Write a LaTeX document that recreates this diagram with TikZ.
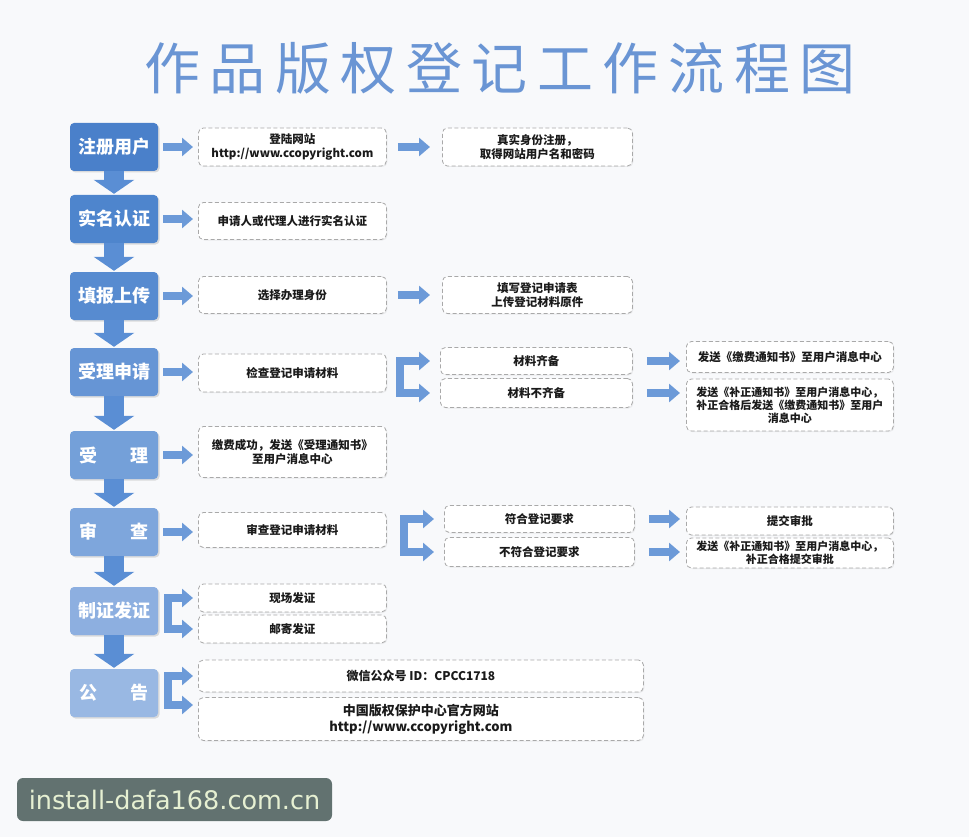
\documentclass[tikz,border=0pt]{standalone}
\usepackage{fontspec}
\setmainfont{Noto Sans CJK SC}
\newfontfamily\wmfont{DejaVu Sans}
\usetikzlibrary{positioning,arrows.meta,shadows}
\definecolor{sbg}{HTML}{F8F9FB}
\definecolor{sline}{HTML}{A9A9A9}
\definecolor{stext}{HTML}{1A1A1A}
\definecolor{sarrow}{HTML}{6C9AD8}
\definecolor{sdown}{HTML}{5A8ED4}
\definecolor{stitle}{HTML}{6A95D4}
\definecolor{swmbg}{HTML}{627270}
\definecolor{swmtext}{HTML}{E6F0D2}
\definecolor{s1}{HTML}{4A80CA}
\definecolor{s2}{HTML}{4E85CD}
\definecolor{s3}{HTML}{578BD0}
\definecolor{s4}{HTML}{6695D5}
\definecolor{s5}{HTML}{74A0D9}
\definecolor{s6}{HTML}{7EA6DC}
\definecolor{s7}{HTML}{8DAFE0}
\definecolor{s8}{HTML}{99B8E3}
\newcommand\twochar[2]{#1\hspace{34pt}#2}
\tikzset{
  stepbox/.style = {fill=#1, draw=none, rounded corners=4pt,
                    minimum width=88pt, minimum height=48pt, inner sep=0pt,
                    text=white, font=\fontsize{18}{20}\selectfont\bfseries,
                    drop shadow={opacity=0.25, shadow xshift=1.5pt, shadow yshift=-1.5pt}},
  dbox/.style    = {draw=sline, dash pattern=on 4pt off 2.5pt, line width=0.8pt,
                    fill=white, rounded corners=5pt, align=center, inner sep=2pt,
                    anchor=west, text=stext,
                    font=\fontsize{11.5}{13.5}\selectfont\bfseries,
                    drop shadow={opacity=0.12, shadow xshift=1pt, shadow yshift=-1pt}},
  fat/.style     = {-{Triangle[width=18pt,length=11pt]}, line width=8pt, draw=sarrow},
  fork/.style    = {{Triangle[width=18pt,length=11pt]}-{Triangle[width=18pt,length=11pt]},
                    line width=8pt, draw=sarrow, line join=miter,
                    shorten <=10pt, shorten >=10pt},
  down/.style    = {-{Triangle[width=40pt,length=14pt]}, line width=20pt, draw=sdown,
                    shorten >=1pt},
}

\begin{document}
\begin{tikzpicture}[x=1pt, y=-1pt]

\useasboundingbox (0,0) rectangle (969,837);
\fill[sbg] (0,0) rectangle (969,837);

% title
\node[font=\fontsize{56}{60}\selectfont\addfontfeatures{LetterSpace=17},
      text=stitle] (title) at (500,68) {作品版权登记工作流程图};

% the eight steps down the left side
\foreach \i/\y/\c/\t in {1/147/s1/注册用户, 2/219/s2/实名认证, 3/296/s3/填报上传,
                         4/372/s4/受理申请, 5/455/s5/{\twochar{受}{理}},
                         6/532/s6/{\twochar{审}{查}}, 7/611/s7/制证发证,
                         8/693/s8/{\twochar{公}{告}}} {
  \node[stepbox=\c] (u\i) at (114,\y) {\t};
}
\foreach \i/\j in {1/2, 2/3, 3/4, 4/5, 5/6, 6/7, 7/8} {
  \draw[down] (u\i.south) -- (u\j.north);
}

\node[dbox, minimum width=188pt, minimum height=38pt] (a1) at (198,147)
  {登陆网站\\http://www.ccopyright.com};
\node[dbox, minimum width=190pt, minimum height=38pt] (b1) at (442,147)
  {真实身份注册，\\取得网站用户名和密码};
\node[dbox, minimum width=188pt, minimum height=37pt] (a2) at (198,221)
  {申请人或代理人进行实名认证};
\node[dbox, minimum width=188pt, minimum height=37pt] (a3) at (198,295)
  {选择办理身份};
\node[dbox, minimum width=190pt, minimum height=37pt] (b3) at (442,295)
  {填写登记申请表\\上传登记材料原件};

\node[dbox, minimum width=188pt, minimum height=38pt] (a4) at (198,373)
  {检查登记申请材料};
\node[dbox, minimum width=192pt, minimum height=27pt] (b4) at (440,361)
  {材料齐备};
\node[dbox, minimum width=192pt, minimum height=29pt] (b4n) at (440,393)
  {材料不齐备};
\node[dbox, minimum width=207pt, minimum height=31pt] (c4) at (686,357)
  {发送《缴费通知书》至用户消息中心};
\node[dbox, minimum width=207pt, minimum height=52pt,
      font=\fontsize{11}{13}\selectfont\bfseries] (c4n) at (686,405)
  {发送《补正通知书》至用户消息中心，\\补正合格后发送《缴费通知书》至用户\\消息中心};

\node[dbox, minimum width=188pt, minimum height=51pt] (a5) at (198,452)
  {缴费成功，发送《受理通知书》\\至用户消息中心};

\node[dbox, minimum width=188pt, minimum height=35pt] (a6) at (198,530)
  {审查登记申请材料};
\node[dbox, minimum width=190pt, minimum height=27pt] (b6) at (444,519)
  {符合登记要求};
\node[dbox, minimum width=190pt, minimum height=29pt] (b6n) at (444,552)
  {不符合登记要求};
\node[dbox, minimum width=207pt, minimum height=28pt] (c6) at (686,521)
  {提交审批};
\node[dbox, minimum width=207pt, minimum height=30pt,
      font=\fontsize{11}{13}\selectfont\bfseries] (c6n) at (686,553)
  {发送《补正通知书》至用户消息中心，\\补正合格提交审批};

\node[dbox, minimum width=188pt, minimum height=28pt] (a7) at (198,598)
  {现场发证};
\node[dbox, minimum width=188pt, minimum height=28pt] (a7n) at (198,629)
  {邮寄发证};

\node[dbox, minimum width=445pt, minimum height=32pt,
      font=\fontsize{12}{14}\selectfont\bfseries] (a8) at (198,676)
  {微信公众号 ID：CPCC1718};
\node[dbox, minimum width=445pt, minimum height=43pt,
      font=\fontsize{13}{16}\selectfont\bfseries] (a8n) at (198,719)
  {中国版权保护中心官方网站\\http://www.ccopyright.com};

% connectors
\foreach \i in {1,...,6} {
  \draw[fat, shorten <=5pt, shorten >=5pt] (u\i.east) -- (u\i.east -| a\i.west);
}
\draw[fat, shorten <=11pt, shorten >=12pt] (a1.east) -- (b1.west);
\draw[fat, shorten <=11pt, shorten >=12pt] (a3.east) -- (b3.west);

\draw[fork] (b4n.west) -| ([xshift=-40pt]b4.west) -- (b4.west);
\draw[fork] (b6n.west) -| ([xshift=-40pt]b6.west) -- (b6.west);
\draw[fork, shorten <=5pt, shorten >=5pt] (a7n.west) -| ([xshift=-30pt]a7.west) -- (a7.west);
\draw[fork, shorten <=5pt, shorten >=5pt] ([yshift=14pt]a8n.west) -| ([xshift=-30pt]a8.west) -- (a8.west);

\draw[fat, shorten <=14pt, shorten >=6pt] (b4.east) -- (b4.east -| c4.west);
\draw[fat, shorten <=14pt, shorten >=6pt] (b4n.east) -- (b4n.east -| c4n.west);
\draw[fat, shorten <=14pt, shorten >=6pt] (b6.east) -- (b6.east -| c6.west);
\draw[fat, shorten <=14pt, shorten >=6pt] (b6n.east) -- (b6n.east -| c6n.west);

\node[fill=swmbg, rounded corners=6pt, minimum width=315pt, minimum height=43pt,
      inner sep=0pt, text=swmtext, font=\wmfont\fontsize{25.5}{28}\selectfont]
  (mark) at (174.5,799.5) {install-dafa168.com.cn};

\end{tikzpicture}
\end{document}
